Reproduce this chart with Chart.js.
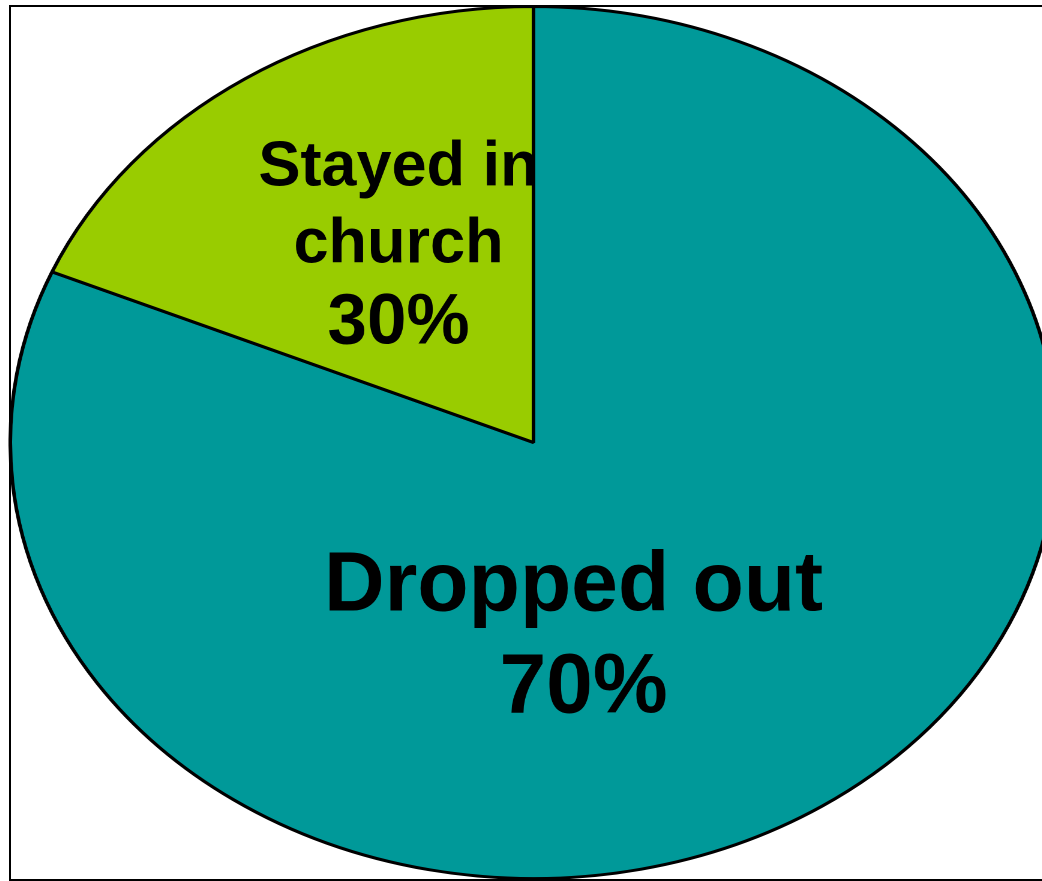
<!DOCTYPE html>
<html>
<head>
<meta charset="utf-8">
<script src="https://cdn.jsdelivr.net/npm/chart.js@4/dist/chart.umd.min.js"></script>
<style>
  html, body { margin: 0; padding: 0; background: #fff; overflow: hidden; }
  body { width: 1042px; height: 881px; position: relative; }
  #frame { position: absolute; left: 9px; top: 5px; width: 1100px; height: 872px;
           border: 2px solid #000; box-sizing: content-box; }
  #wrap { position: absolute; left: 95.5px; top: 4.5px; width: 875px; height: 875px;
          transform: scaleX(1.2); transform-origin: 50% 50%; }
</style>
</head>
<body>
<div id="frame"></div>
<div id="wrap"><canvas id="pie"></canvas></div>
<script>
// slice sizes (teal first, clockwise from 12 o'clock)
const categories = ['Dropped out', 'Stayed in church'];
const shares = [81.4, 18.6];
const percentLabels = ['70%', '30%'];
const colors = ['#009999', '#99CC00'];

const SX = 1.2; // horizontal stretch that turns the circle into the ellipse

// text drawn un-stretched; offsets are page pixels from the pie centre
const sliceText = {
  id: 'sliceText',
  afterDraw(chart) {
    const arc = chart.getDatasetMeta(0).data[0];
    const ctx = chart.ctx;
    const put = (txt, dx, dy, size) => {
      ctx.save();
      ctx.translate(arc.x + dx / SX, arc.y + dy);
      ctx.scale(1 / SX, 1);
      ctx.font = 'bold ' + size + 'px "Liberation Sans", Arial, sans-serif';
      ctx.fillStyle = '#000';
      ctx.textAlign = 'center';
      ctx.textBaseline = 'alphabetic';
      ctx.fillText(txt, 0, 0);
      ctx.restore();
    };
    put('Stayed in', -135, -257, 63);
    put('church', -135, -180, 63);
    put(percentLabels[1], -135, -99, 71);
    put('Dropped out', 40, 168, 84);
    put(percentLabels[0], 50, 270, 84);
  }
};

new Chart(document.getElementById('pie'), {
  type: 'pie',
  data: {
    labels: categories,
    datasets: [{ data: shares, backgroundColor: colors, borderColor: '#000', borderWidth: 3 }]
  },
  options: {
    responsive: true,
    maintainAspectRatio: false,
    animation: false,
    devicePixelRatio: 2,
    layout: { padding: 0 },
    plugins: { legend: { display: false }, tooltip: { enabled: false } }
  },
  plugins: [sliceText]
});
</script>
</body>
</html>
